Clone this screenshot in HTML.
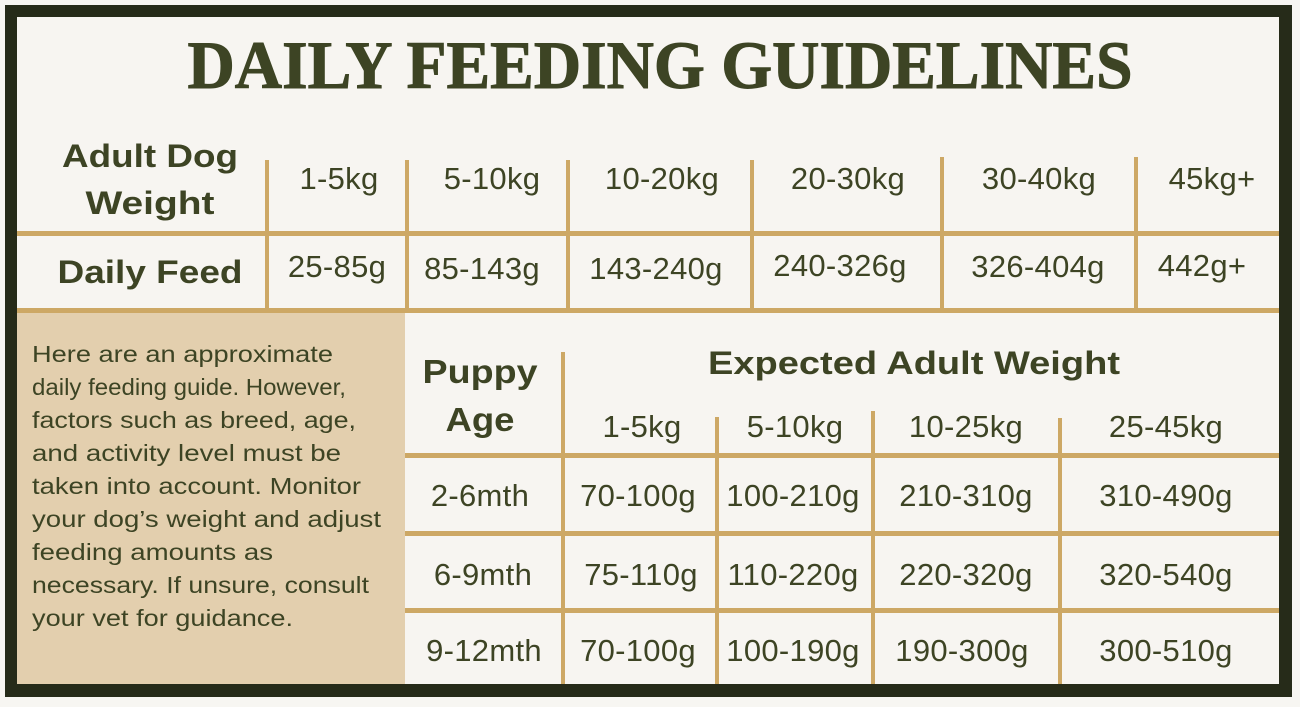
<!DOCTYPE html>
<html><head><meta charset="utf-8"><style>
html,body{margin:0;padding:0;background:#f7f6f2;}
svg{display:block}
.h{font-family:"Liberation Sans",sans-serif;font-weight:bold;fill:#3d4424;text-anchor:middle}
.v{font-family:"Liberation Sans",sans-serif;fill:#3d4424;text-anchor:middle;font-size:31px;letter-spacing:0.3px}
.p{font-family:"Liberation Sans",sans-serif;fill:#3d4424;font-size:23px}
</style></head><body>
<svg width="1300" height="707" viewBox="0 0 1300 707">
<rect x="0" y="0" width="1300" height="707" fill="#f7f6f2"/>
<rect x="5" y="5" width="1287" height="692" fill="#262b19"/>
<rect x="17" y="17" width="1262" height="667" fill="#f7f5f1"/>
<rect x="17" y="312" width="388" height="372" fill="#e3cfae"/>
<text x="660" y="88" font-family="Liberation Serif,serif" font-weight="bold" font-size="68" fill="#3d4424" text-anchor="middle" textLength="945" lengthAdjust="spacingAndGlyphs" stroke="#3d4424" stroke-width="1">DAILY FEEDING GUIDELINES</text>
<g fill="#cda865">
<rect x="17" y="231" width="1262" height="5"/>
<rect x="17" y="308" width="1262" height="5"/>
<rect x="265" y="160" width="4" height="150"/>
<rect x="405" y="160" width="4" height="150"/>
<rect x="566" y="160" width="4" height="150"/>
<rect x="750" y="160" width="4" height="150"/>
<rect x="940" y="157" width="4" height="153"/>
<rect x="1134" y="157" width="4" height="153"/>
<rect x="405" y="453" width="874" height="5"/>
<rect x="405" y="531" width="874" height="5"/>
<rect x="405" y="608" width="874" height="5"/>
<rect x="561" y="352" width="4" height="332"/>
<rect x="715" y="417" width="4" height="267"/>
<rect x="871" y="411" width="4" height="273"/>
<rect x="1058" y="418" width="4" height="266"/>
</g>
<text class="h" x="150" y="167" font-size="32" textLength="176" lengthAdjust="spacingAndGlyphs">Adult Dog</text>
<text class="h" x="150" y="214" font-size="32" textLength="129" lengthAdjust="spacingAndGlyphs">Weight</text>
<text class="h" x="150" y="283" font-size="32" textLength="185" lengthAdjust="spacingAndGlyphs">Daily Feed</text>
<g class="v">
<text x="339" y="189">1-5kg</text>
<text x="492" y="189">5-10kg</text>
<text x="662" y="189">10-20kg</text>
<text x="848" y="189">20-30kg</text>
<text x="1039" y="189">30-40kg</text>
<text x="1212" y="189">45kg+</text>
<text x="337" y="277">25-85g</text>
<text x="482" y="279">85-143g</text>
<text x="656" y="279">143-240g</text>
<text x="840" y="276">240-326g</text>
<text x="1038" y="277">326-404g</text>
<text x="1202" y="276">442g+</text>
</g>
<g class="p">
<text x="32" y="362" textLength="301" lengthAdjust="spacingAndGlyphs">Here are an approximate</text>
<text x="32" y="395" textLength="314" lengthAdjust="spacingAndGlyphs">daily feeding guide. However,</text>
<text x="32" y="428" textLength="324" lengthAdjust="spacingAndGlyphs">factors such as breed, age,</text>
<text x="32" y="461" textLength="309" lengthAdjust="spacingAndGlyphs">and activity level must be</text>
<text x="32" y="494" textLength="329" lengthAdjust="spacingAndGlyphs">taken into account. Monitor</text>
<text x="32" y="527" textLength="349" lengthAdjust="spacingAndGlyphs">your dog’s weight and adjust</text>
<text x="32" y="560" textLength="241" lengthAdjust="spacingAndGlyphs">feeding amounts as</text>
<text x="32" y="593" textLength="337" lengthAdjust="spacingAndGlyphs">necessary. If unsure, consult</text>
<text x="32" y="626" textLength="261" lengthAdjust="spacingAndGlyphs">your vet for guidance.</text>
</g>
<text class="h" x="480" y="383" font-size="33" textLength="115" lengthAdjust="spacingAndGlyphs">Puppy</text>
<text class="h" x="480" y="431" font-size="33" textLength="69" lengthAdjust="spacingAndGlyphs">Age</text>
<text class="h" x="914" y="374" font-size="32" textLength="412" lengthAdjust="spacingAndGlyphs">Expected Adult Weight</text>
<g class="v">
<text x="642" y="437">1-5kg</text>
<text x="795" y="437">5-10kg</text>
<text x="966" y="437">10-25kg</text>
<text x="1166" y="437">25-45kg</text>
<text x="480" y="506">2-6mth</text>
<text x="638" y="506">70-100g</text>
<text x="793" y="506">100-210g</text>
<text x="966" y="506">210-310g</text>
<text x="1166" y="506">310-490g</text>
<text x="483" y="585">6-9mth</text>
<text x="641" y="585">75-110g</text>
<text x="793" y="585">110-220g</text>
<text x="966" y="585">220-320g</text>
<text x="1166" y="585">320-540g</text>
<text x="484" y="661">9-12mth</text>
<text x="638" y="661">70-100g</text>
<text x="793" y="661">100-190g</text>
<text x="962" y="661">190-300g</text>
<text x="1166" y="661">300-510g</text>
</g>
</svg>
</body></html>
